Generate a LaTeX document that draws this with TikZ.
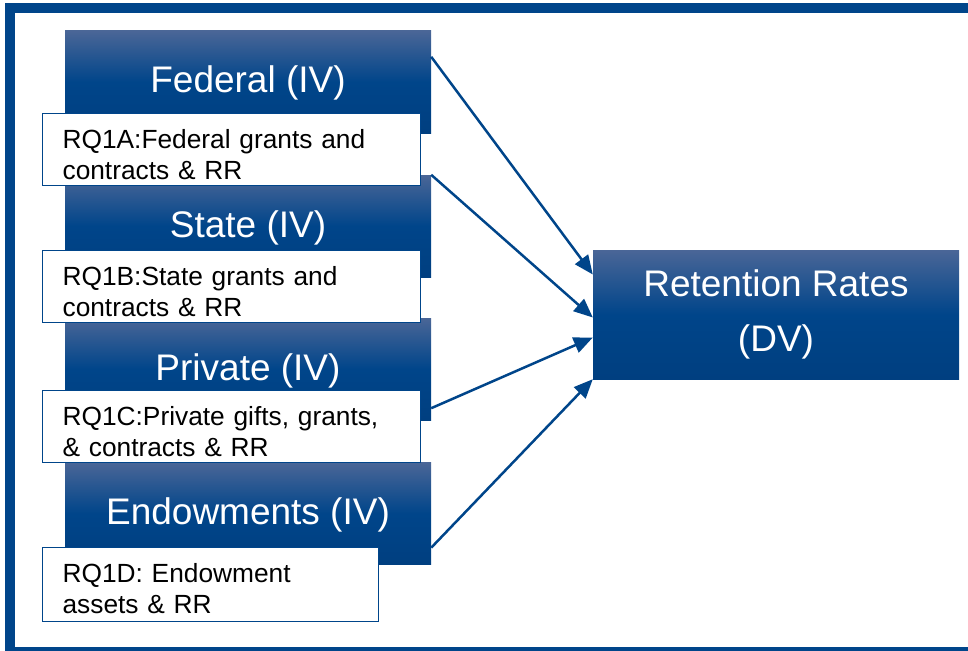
\documentclass[tikz,border=0pt]{standalone}
\usepackage{fontspec}
\setmainfont{Liberation Sans}
\usetikzlibrary{arrows.meta}
\definecolor{navy}{HTML}{00458A}
\definecolor{navytop}{HTML}{4A6697}
\definecolor{navybot}{HTML}{003F80}

\begin{document}
\begin{tikzpicture}[x=1pt,y=-1pt,
	ivbox/.style={rectangle,top color=navytop,bottom color=navybot,middle color=navy,text=white,minimum width=366pt,minimum height=102pt,inner sep=0pt,align=center,font=\fontsize{37}{55}\selectfont},
	rqbox/.style={rectangle,draw=navy,line width=1.2pt,fill=white,anchor=north west,align=left,inner xsep=20pt,inner ysep=0pt,text height=35pt,text depth=37pt,text width=338pt,font=\fontsize{26.3}{31}\selectfont},
	arr/.style={draw=navy,line width=2.5pt,-{Triangle[length=19pt,width=16pt]}}]
	\useasboundingbox (0,0) rectangle (968,650);
	\clip (0,0) rectangle (968,650);
	\draw[navy,line width=10pt] (10,8) rectangle (980,652);

	\foreach \y/\n/\t in {82/1/Federal,226/2/State,369/3/Private,513.5/4/Endowments}
		\node[ivbox,text height=30pt,text depth=8pt] at (248,\y) (iv\n) {\t{} (IV)};
	\node[ivbox,minimum height=129pt] at (776,314.5) (dv) {Retention Rates\\(DV)};

	\node[rqbox] at (42,113) (rq1) {RQ1A:Federal grants and\\contracts \& RR};
	\node[rqbox] at (42,250) (rq2) {RQ1B:State grants and\\contracts \& RR};
	\node[rqbox] at (42,390) (rq3) {RQ1C:Private gifts, grants,\\\& contracts \& RR};
	\node[rqbox,text width=296pt,text depth=39pt] at (42,547) (rq4) {RQ1D: Endowment\\assets \& RR};

	\draw[arr] ([yshift=-26pt]iv1.north east) -- ([yshift=40pt]dv.west);
	\draw[arr] (iv2.north east) -- ([yshift=-3pt]dv.west);
	\draw[arr] ([yshift=12pt]iv3.south east) -- ([yshift=-23pt]dv.west);
	\draw[arr] ([yshift=17pt]iv4.south east) -- (dv.south west);
\end{tikzpicture}
\end{document}
